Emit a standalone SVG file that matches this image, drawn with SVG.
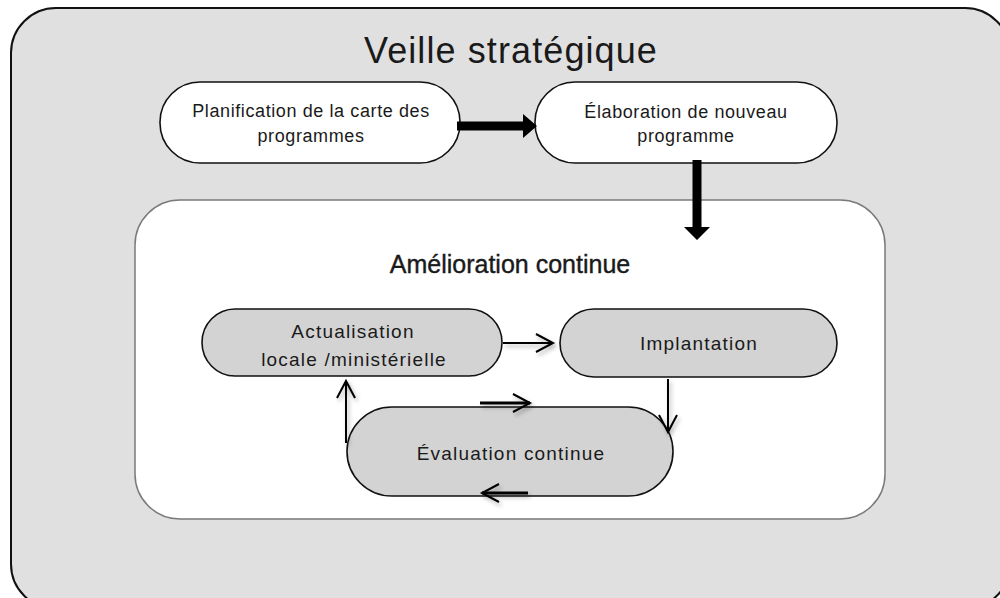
<svg xmlns="http://www.w3.org/2000/svg" width="1000" height="598" viewBox="0 0 1000 598">
  <style>
    .txt { font-family: "Liberation Sans", Arial, sans-serif; fill: #1a1a1a; text-anchor: middle; }
    .top { fill: #ffffff; stroke: #111111; stroke-width: 1.6; }
    .gray { fill: #d3d3d3; stroke: #111111; stroke-width: 1.6; }
    .thin { fill: none; stroke: #000000; stroke-width: 2; }
    .thick { fill: none; stroke: #000000; stroke-width: 3; }
  </style>
  <defs>
    <marker id="vhead" markerUnits="userSpaceOnUse" markerWidth="30" markerHeight="30" viewBox="-20 -15 30 30" refX="0" refY="0" orient="auto">
      <path d="M-17,-9 L0,0 L-17,9" fill="none" stroke="#000" stroke-width="2"/>
    </marker>
    <filter id="shadow" x="-20%" y="-20%" width="140%" height="160%">
      <feDropShadow dx="2" dy="3" stdDeviation="2" flood-color="#000" flood-opacity="0.3"/>
    </filter>
  </defs>

  <g id="veille">
    <rect x="11" y="8" width="999" height="601" rx="45" ry="45" fill="#e0e0e0" stroke="#111111" stroke-width="2"/>
    <text class="txt" x="511" y="63" font-size="36" letter-spacing="1.1">Veille stratégique</text>
  </g>

  <g id="amelioration">
    <rect x="135" y="200" width="750" height="319" rx="45" ry="45" fill="#ffffff" stroke="#7a7a7a" stroke-width="1.5"/>
    <text class="txt" x="510" y="273" font-size="25" stroke="#1a1a1a" stroke-width="0.4">Amélioration continue</text>
  </g>

  <g id="planification">
    <rect class="top" x="160" y="82" width="300" height="81" rx="40" ry="40"/>
    <text class="txt" x="311" y="117" font-size="18" letter-spacing="0.6">Planification de la carte des</text>
    <text class="txt" x="311" y="142" font-size="18" letter-spacing="0.6">programmes</text>
  </g>

  <g id="elaboration">
    <rect class="top" x="535" y="82" width="302" height="81" rx="40" ry="40"/>
    <text class="txt" x="686" y="118" font-size="18" letter-spacing="0.6">Élaboration de nouveau</text>
    <text class="txt" x="686" y="142" font-size="18" letter-spacing="0.6">programme</text>
  </g>

  <g id="actualisation">
    <rect class="gray" x="202" y="309" width="300" height="67" rx="33" ry="33.5"/>
    <text class="txt" x="353" y="338" font-size="19" letter-spacing="1.2">Actualisation</text>
    <text class="txt" x="354" y="366" font-size="19" letter-spacing="1.2">locale /ministérielle</text>
  </g>

  <g id="implantation">
    <rect class="gray" x="560" y="309" width="277" height="68" rx="34" ry="34"/>
    <text class="txt" x="699" y="350" font-size="19" letter-spacing="1.2">Implantation</text>
  </g>

  <g id="evaluation">
    <rect class="gray" x="347" y="407" width="326" height="89" rx="45" ry="44.5"/>
    <text class="txt" x="511" y="460" font-size="19" letter-spacing="1.2">Évaluation continue</text>
  </g>

  <g id="connectors">
    <path d="M457,121.5 L523,121.5 L523,114 L537,126 L523,138 L523,130.5 L457,130.5 Z" fill="#000"/>
    <path d="M692.5,160 L692.5,227 L684,227 L697,240 L710,227 L701.5,227 L701.5,160 Z" fill="#000"/>
    <g filter="url(#shadow)">
      <line class="thin" x1="503" y1="343" x2="553" y2="343" marker-end="url(#vhead)"/>
      <line class="thin" x1="668" y1="379" x2="668" y2="432" marker-end="url(#vhead)"/>
      <line class="thin" x1="346" y1="443" x2="346" y2="381" marker-end="url(#vhead)"/>
      <line class="thick" x1="480" y1="403" x2="530" y2="403" marker-end="url(#vhead)"/>
      <line class="thick" x1="528" y1="493" x2="482" y2="493" marker-end="url(#vhead)"/>
    </g>
  </g>
</svg>
